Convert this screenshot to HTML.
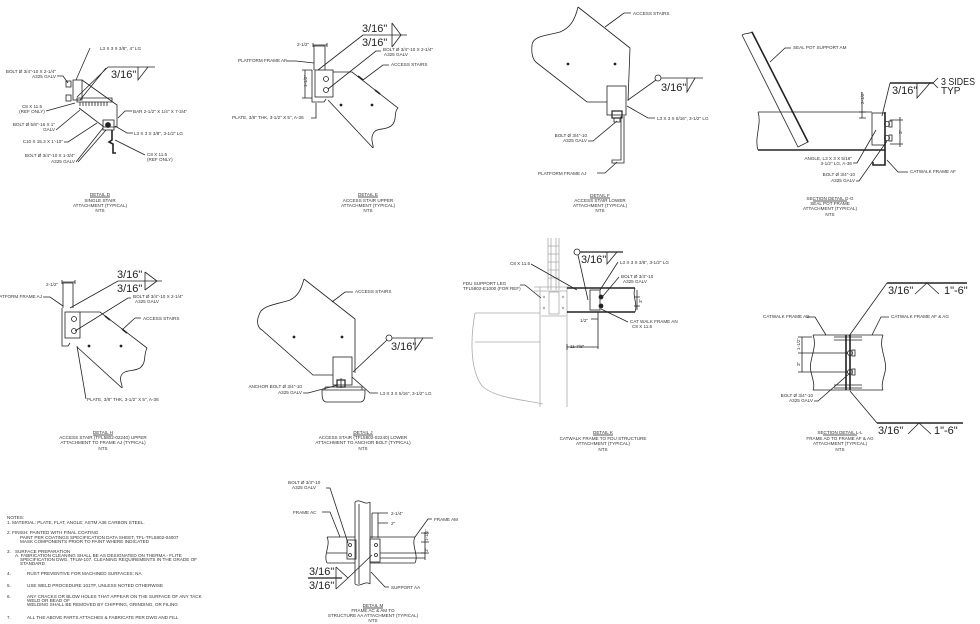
<!DOCTYPE html>
<html><head><meta charset="utf-8">
<style>
html,body{margin:0;padding:0;background:#fff;}
svg{display:block;}
text{font-family:"Liberation Sans",sans-serif;fill:#333;stroke:none;font-size:4.6px;}
.w{font-size:11px;fill:#222;}
.m{text-anchor:middle;}
.e{text-anchor:end;}
.g{stroke:#aaa;}
.t{stroke-width:1.6;}
.f{fill:#222;}
</style></head><body>
<svg width="980" height="624" viewBox="0 0 980 624" xmlns="http://www.w3.org/2000/svg">
<rect width="980" height="624" fill="#fff"/>
<g fill="none" stroke="#222" stroke-width="0.8">

<!-- ================= DETAIL D ================= -->
<path d="M108,67 H155"/>
<path d="M138,67 V80 L148,67"/>
<text class="w" x="111" y="78">3/16"</text>
<path d="M108,67 L77,97 M106,68 L80,100"/>
<path d="M90,48 L76,80"/>
<text x="100" y="50">L3 X 3 X 3/8", 4" LG</text>
<rect x="73" y="80" width="9" height="20"/>
<rect x="66" y="81" width="5" height="6"/><rect x="66" y="95" width="5" height="6"/>
<path d="M82,80 L117,105 V127"/>
<path d="M79,108 L104,127 H117"/>
<path d="M77,98 H112 V102 H77 Z"/>
<path d="M80,102 V106 M83,102 V106 M86,102 V106 M89,102 V106 M92,102 V106 M95,102 V106 M98,102 V106 M101,102 V106 M104,102 V106 M107,102 V106"/>
<rect x="103" y="120" width="11" height="10"/>
<circle cx="108" cy="125" r="2.5" class="f"/>
<path d="M112,130 V140 L109,142 L113,144 V153 H116" class="t"/>
<text class="e" x="56" y="73">BOLT Ø 3/4"-10 X 2-1/4"</text>
<text class="e" x="56" y="78">A325 GALV</text>
<path d="M57,76 H63 L68,83"/>
<text class="m" x="32" y="108">C8 X 11.5</text>
<text class="m" x="32" y="113">(REF ONLY)</text>
<path d="M46,111 L75,103"/>
<text class="e" x="55" y="126">BOLT Ø 5/8"-16 X 1"</text>
<text class="e" x="55" y="131">GALV</text>
<path d="M56,130 L80,110"/>
<text class="e" x="63" y="143">C10 X 15.3 X 1'-10"</text>
<path d="M64,142 H68 L97,123"/>
<text class="e" x="75" y="157">BOLT Ø 3/4"-10 X 1-3/4"</text>
<text class="e" x="75" y="163">A325 GALV</text>
<path d="M76,162 L103,128 M78,162 L106,130"/>
<text x="133" y="113">BAR 2-1/2" X 1/4" X 7-3/4"</text>
<path d="M132,111 H125 L118,118"/>
<text x="134" y="135">L3 X 3 X 3/8", 3-1/2" LG</text>
<path d="M133,133 H127 L115,126"/>
<text x="147" y="156">C8 X 11.5</text>
<text x="147" y="161">(REF ONLY)</text>
<path d="M145,155 L115,140"/>
<text class="m" x="100" y="196">DETAIL D</text><path d="M90,197 H110"/>
<text class="m" x="100" y="202">SINGLE STAIR</text>
<text class="m" x="100" y="207">ATTACHMENT (TYPICAL)</text>
<text class="m" x="100" y="212">NTS</text>

<!-- ================= DETAIL E ================= -->
<path d="M363,35 H407"/>
<path d="M392,23 V47 M392,23 L401,35 L392,47"/>
<text class="w" x="362" y="32">3/16"</text>
<text class="w" x="362" y="46">3/16"</text>
<path d="M363,35 L318,70"/>
<path d="M314,70 V46 H325 V70"/>
<path d="M313,45 H327 M313,43 V47 M327,43 V47"/>
<text x="297" y="46">2-1/2"</text>
<rect x="315" y="70" width="18" height="27"/>
<path d="M312,70 V102 H324 L326,99"/>
<circle cx="326" cy="79" r="2.5"/><circle cx="326" cy="90" r="2.5"/>
<path d="M305,70 V98 M302,70 H312 M302,98 H312"/>
<text x="0" y="0" transform="translate(307,87) rotate(-90)">1-1/2"</text>
<path d="M333,72 H352 L398,108 C393,113 398,120 391,126 C384,131 376,127 373,134 C370,140 374,145 373,148"/>
<path d="M328,100 L373,148"/>
<path d="M358,76 L363,80 M375,90 L380,94" class="t"/>
<circle cx="341" cy="105" r="1" class="f"/><circle cx="372" cy="105" r="1" class="f"/>
<text x="383" y="51">BOLT Ø 3/4"-10 X 2-1/4"</text>
<text x="384" y="56">A325 GALV</text>
<path d="M381,51 H376 L328,89"/>
<text x="391" y="66">ACCESS STAIRS</text>
<path d="M389,65 H383 L363,80"/>
<text x="238" y="62">PLATFORM FRAME AF</text>
<path d="M286,61 H296 L314,63"/>
<text x="232" y="119">PLATE, 3/8" THK, 3-1/2" X 5", A-36</text>
<path d="M311,118 H316 V103"/>
<text class="m" x="368" y="196">DETAIL E</text><path d="M358,197 H378"/>
<text class="m" x="368" y="202">ACCESS STAIR UPPER</text>
<text class="m" x="368" y="207">ATTACHMENT (TYPICAL)</text>
<text class="m" x="368" y="212">NTS</text>

<!-- ================= DETAIL F ================= -->
<path d="M578,7 L630,48 L628,101"/>
<path d="M578,7 C575,20 570,28 560,32 C545,36 533,36 532,45 C531,55 533,60 537,63 L587,102 H607"/>
<circle cx="568" cy="64" r="1" class="f"/><circle cx="615" cy="64" r="1" class="f"/>
<rect x="607" y="86" width="19" height="29"/>
<rect x="612" y="111" width="10" height="7" stroke-width="1.2"/>
<path d="M614,118 H620 V122 H614 Z"/>
<path d="M621,116 V160 H612 V163 H624 V116"/>
<circle cx="658" cy="78" r="3"/>
<path d="M661,78 H703"/>
<path d="M687,78 V92 L695,78"/>
<text class="w" x="661" y="91">3/16"</text>
<path d="M656,80 L628,100"/>
<text x="633" y="15">ACCESS STAIRS</text>
<path d="M631,13 H624 L605,27"/>
<text x="657" y="120">L3 X 3 X 5/16", 3-1/2" LG</text>
<path d="M655,118 H648 L627,106"/>
<text class="e" x="587" y="137">BOLT Ø 3/4"-10</text>
<text class="e" x="587" y="142">A325 GALV</text>
<path d="M588,141 H593 L617,121"/>
<text x="538" y="175">PLATFORM FRAME AJ</text>
<path d="M597,173 H605 L617,162"/>
<text class="m" x="600" y="197">DETAIL F</text><path d="M590,198 H610"/>
<text class="m" x="600" y="202">ACCESS STAIR LOWER</text>
<text class="m" x="600" y="207">ATTACHMENT (TYPICAL)</text>
<text class="m" x="600" y="212">NTS</text>

<!-- ================= DETAIL G ================= -->
<path d="M758,112 H872 M758,150 H885"/>
<path d="M758,150 H885" class="t"/>
<path d="M758,112 C762,124 754,138 758,150"/>
<path d="M742,35 L798,147 L808,142 L752,32 C749,34 745,33 742,35"/>
<path d="M752,32 L808,142" class="t"/>
<rect x="872" y="113" width="13" height="32"/>
<path d="M885,112 V165 H873 V162" class="t"/>
<circle cx="887" cy="124" r="2.5"/><circle cx="887" cy="138" r="2.5"/>
<rect x="889" y="121" width="3" height="6"/><rect x="889" y="135" width="3" height="6"/>
<path d="M862,92 V118 M859,112 H866 M859,118 H866"/>
<text transform="translate(864,104) rotate(-90)">2-1/2"</text>
<path d="M900,117 V147 M897,120 H903 M897,144 H903 M890,120 H897 M890,144 H897"/>
<text transform="translate(902,134) rotate(-90)">3"</text>
<path d="M890,83 H933" stroke-width="1.4"/>
<path d="M917,83 V98 L930,83"/>
<path d="M933,83 L938,78 M933,83 L938,88"/>
<text class="w" x="892" y="94">3/16"</text>
<text class="w" x="941" y="85" style="font-size:10px" textLength="34" lengthAdjust="spacingAndGlyphs">3 SIDES</text>
<text class="w" x="941" y="94" style="font-size:10px">TYP</text>
<path d="M890,83 L882,116"/>
<text x="793" y="49">SEAL POT SUPPORT AM</text>
<path d="M791,48 H785 L770,62"/>
<text class="e" x="852" y="160">ANGLE, L3 X 3 X 5/16"</text>
<text class="e" x="852" y="165">3-1/2" LG, A-36</text>
<path d="M853,163 H857 L876,130"/>
<text class="e" x="855" y="176">BOLT Ø 3/4"-10</text>
<text class="e" x="855" y="182">A325 GALV</text>
<path d="M856,181 H859 L887,141"/>
<text x="910" y="173">CATWALK FRAME AF</text>
<path d="M908,172 H898 L887,160"/>
<text class="m" x="830" y="200">SECTION DETAIL G-G</text><path d="M813,201 H847"/>
<text class="m" x="830" y="205">SEAL POT FRAME</text>
<text class="m" x="830" y="210">ATTACHMENT (TYPICAL)</text>
<text class="m" x="830" y="216">NTS</text>

<!-- ================= DETAIL H ================= -->
<path d="M118,281 H162"/>
<path d="M145,272 V290 M145,272 L157,281 L145,290"/>
<text class="w" x="117" y="278">3/16"</text>
<text class="w" x="117" y="292">3/16"</text>
<path d="M118,281 L70,308"/>
<path d="M63,308 V283 H73 V308"/>
<path d="M62,282 H75 M62,280 V284 M75,280 V284"/>
<text x="46" y="286">2-1/2"</text>
<path d="M62,308 V346 H68 L70,343"/>
<rect x="65" y="312" width="15" height="26"/>
<circle cx="74" cy="319" r="2.5"/><circle cx="74" cy="331" r="2.5"/>
<path d="M80,312 H100 L147,348 C143,356 147,362 140,368 C133,372 124,369 121,376 C119,381 123,385 122,388"/>
<path d="M77,347 L122,388"/>
<path d="M105,316 L110,320 M122,329 L127,333" class="t"/>
<circle cx="89" cy="346" r="1" class="f"/><circle cx="121" cy="346" r="1" class="f"/>
<text class="e" x="42" y="298">ATFORM FRAME AJ</text>
<path d="M43,297 H50 L63,306"/>
<text x="133" y="298">BOLT Ø 3/4"-10 X 2-1/4"</text>
<text x="135" y="303">A325 GALV</text>
<path d="M131,298 H128 L75,331"/>
<text x="143" y="320">ACCESS STAIRS</text>
<path d="M141,318 H135 L123,329"/>
<text x="87" y="401">PLATE, 3/8" THK, 3-1/2" X 5", A-36</text>
<path d="M86,399 L77,346"/>
<text class="m" x="103" y="434">DETAIL H</text><path d="M93,435 H113"/>
<text class="m" x="103" y="439">ACCESS STAIR (TFL5802-02240) UPPER</text>
<text class="m" x="103" y="444">ATTACHMENT TO FRAME AJ (TYPICAL)</text>
<text class="m" x="103" y="450">NTS</text>

<!-- ================= DETAIL J ================= -->
<path d="M304,279 L355,319 V373"/>
<path d="M304,279 C301,290 298,296 290,300 C275,305 262,305 259,315 C256,322 258,328 262,330 L313,375 H333"/>
<circle cx="294" cy="337" r="1" class="f"/><circle cx="342" cy="337" r="1" class="f"/>
<rect x="333" y="357" width="19" height="28"/>
<path d="M325,387 H362 V390 M325,387 V390 M322,390 H365 C365,397 365,401 361,402 H326 C322,401 322,397 322,390"/>
<rect x="337" y="380" width="8" height="7" stroke-width="1.2"/>
<path d="M341,378 V388"/>
<circle cx="389" cy="338" r="3"/>
<path d="M392,338 H433"/>
<path d="M415,338 V350 L423,338"/>
<text class="w" x="391" y="350">3/16"</text>
<path d="M387,340 L353,372"/>
<text x="355" y="293">ACCESS STAIRS</text>
<path d="M353,292 H345 L332,302"/>
<text class="e" x="302" y="388">ANCHOR BOLT Ø 3/4"-10</text>
<text class="e" x="302" y="394">A325 GALV</text>
<path d="M303,393 H308 L338,385"/>
<text x="380" y="395">L3 X 3 X 5/16", 3-1/2" LG</text>
<path d="M378,393 H370 L352,377"/>
<text class="m" x="363" y="434">DETAIL J</text><path d="M353,435 H373"/>
<text class="m" x="363" y="439">ACCESS STAIR (TFL5802-02240) LOWER</text>
<text class="m" x="363" y="444">ATTACHMENT TO ANCHOR BOLT (TYPICAL)</text>
<text class="m" x="363" y="450">NTS</text>

<!-- ================= DETAIL K ================= -->
<g class="g">
<path d="M548,238 V290 M559,238 V290 M551,238 V290 M556,238 V290"/>
<path d="M548,246 H559 M548,254 H559 M548,262 H559 M548,270 H559 M548,278 H559"/>
<path d="M540,287 V407 M567,287 V407 M534,287 H569 M534,291 H567"/>
<rect x="549" y="292" width="10" height="22"/>
<circle cx="544" cy="297" r="0.8"/><circle cx="563" cy="297" r="0.8"/><circle cx="544" cy="308" r="0.8"/><circle cx="563" cy="308" r="0.8"/>
<path d="M541,316 H566"/>
<path d="M475,313 H540 M475,342 H540"/>
<path d="M475,313 C471,335 469,368 482,386 C495,398 520,399 543,404"/>
</g>
<path d="M567,288 H635 M567,312 H635" class="t"/>
<path d="M635,288 C632,296 638,304 635,312"/>
<rect x="590" y="290" width="10" height="20"/>
<circle cx="601" cy="297" r="2" class="f"/><circle cx="601" cy="306" r="2" class="f"/>
<path d="M637,290 V310 M634,297 H640 M634,306 H640"/>
<text transform="translate(642,303) rotate(-90)">3"</text>
<circle cx="577" cy="252" r="3"/>
<path d="M580,252 H623" stroke-width="1.3"/>
<path d="M607,252 V264 L617,252"/>
<text class="w" x="581" y="263">3/16"</text>
<path d="M578,255 L588,300"/>
<text x="620" y="264">L3 X 3 X 3/8", 3-1/2" LG</text>
<path d="M618,262 L600,290"/>
<text x="510" y="265">C8 X 11.5</text>
<path d="M531,264 L577,290"/>
<text x="463" y="285">FDU SUPPORT LEG</text>
<text x="463" y="290">TFL5802-E1000 (FOR REF)</text>
<path d="M520,285 H525 L541,298"/>
<text x="621" y="278">BOLT Ø 3/4"-10</text>
<text x="623" y="283">A325 GALV</text>
<path d="M619,277 L603,296"/>
<text x="580" y="322">1/2"</text>
<path d="M591,319 H598 M598,312 V349"/>
<text x="630" y="323">CAT WALK FRAME AN</text>
<text x="632" y="328">C8 X 11.5</text>
<path d="M628,322 L601,309"/>
<text x="570" y="348">11-7/8"</text>
<path d="M567,347 H598 M567,344 V350"/>
<text class="m" x="603" y="434">DETAIL K</text><path d="M593,435 H613"/>
<text class="m" x="603" y="440">CATWALK FRAME TO FDU STRUCTURE</text>
<text class="m" x="603" y="445">ATTACHMENT (TYPICAL)</text>
<text class="m" x="603" y="451">NTS</text>

<!-- ================= DETAIL L ================= -->
<path d="M813,335 H883 M813,390 H883"/>
<path d="M813,335 C818,348 808,360 811,372 C813,380 815,386 813,390"/>
<path d="M883,335 C878,348 888,360 885,372 C883,380 881,386 883,390"/>
<path d="M846,335 V390 M850,335 V390" class="t"/>
<path d="M834,337 H862 M834,340 H862 M834,385 H862 M834,388 H862"/>
<circle cx="850" cy="353" r="2.5"/><circle cx="850" cy="372" r="2.5"/>
<rect x="852" y="350" width="3" height="6"/><rect x="852" y="369" width="3" height="6"/>
<path d="M802,337 V372 M798,337 H812 M798,353 H848 M798,372 H848"/>
<text transform="translate(800,350) rotate(-90)">1-1/2"</text>
<text transform="translate(800,366) rotate(-90)">3"</text>
<path d="M887,283 H967" stroke-width="1.4"/>
<path d="M915,294 L927,283 L939,294"/>
<text class="w" x="888" y="294">3/16"</text>
<text class="w" x="944" y="294">1"-6"</text>
<path d="M887,283 L849,336"/>
<path d="M877,423 H963" stroke-width="1.4"/>
<path d="M908,434 L919,423 L931,434"/>
<text class="w" x="878" y="434">3/16"</text>
<text class="w" x="934" y="434">1"-6"</text>
<path d="M877,423 L850,391"/>
<text x="763" y="318">CATWALK FRAME AD</text>
<path d="M807,317 H815 L826,335"/>
<text x="891" y="318">CATWALK FRAME AF &amp; AG</text>
<path d="M889,317 H881 L872,335"/>
<text class="e" x="813" y="397">BOLT Ø 3/4"-10</text>
<text class="e" x="813" y="402">A325 GALV</text>
<path d="M814,401 H818 L850,373"/>
<text class="m" x="840" y="434">SECTION DETAIL L-L</text><path d="M823,435 H857"/>
<text class="m" x="840" y="440">FRAME AD TO FRAME AF &amp; AG</text>
<text class="m" x="840" y="445">ATTACHMENT (TYPICAL)</text>
<text class="m" x="840" y="451">NTS</text>

<!-- ================= DETAIL M ================= -->
<path d="M355,502 V584 M370,502 V584 M359,504 V584"/>
<path d="M355,502 C360,498 365,506 370,502"/>
<path d="M355,584 C360,588 365,580 370,584"/>
<path d="M327,537 H355 M327,563 H355 M327,553 H347"/>
<path d="M327,537 C331,545 323,555 327,563"/>
<path d="M370,537 H415 M370,563 H415 M380,553 H425 M380,558 H425"/>
<path d="M415,537 C411,545 419,555 415,563"/>
<rect x="347" y="540" width="9" height="19"/>
<rect x="370" y="539" width="10" height="23"/>
<circle cx="350" cy="545" r="1.5"/><circle cx="350" cy="555" r="1.5"/>
<circle cx="376" cy="545" r="1.5"/><circle cx="376" cy="555" r="1.5"/>
<path d="M372,513 V538 M378,513 V538 M372,513 H388 M378,523 H388"/>
<text x="391" y="515">2-1/4"</text>
<text x="391" y="525">2"</text>
<path d="M425,532 V560 M421,533 H429 M421,542 H429 M421,553 H429"/>
<text transform="translate(428,541) rotate(-90)">1-1/2"</text>
<text transform="translate(428,552) rotate(-90)">3"</text>
<path d="M308,578 H342" stroke-width="1.3"/>
<path d="M336,567 V589 M336,567 L348,578 L336,589"/>
<text class="w" x="309" y="575">3/16"</text>
<text class="w" x="309" y="589">3/16"</text>
<path d="M348,578 L372,555"/>
<text x="288" y="484">BOLT Ø 3/4"-10</text>
<text x="292" y="489">A325 GALV</text>
<path d="M326,488 H330 L348,543"/>
<text x="293" y="514">FRAME AC</text>
<path d="M322,512 H330 L340,537"/>
<text x="434" y="521">FRAME AM</text>
<path d="M432,519 H428 L415,537"/>
<text x="391" y="589">SUPPORT AA</text>
<path d="M389,587 H385 L371,572"/>
<text class="m" x="373" y="607">DETAIL M</text><path d="M363,608 H383"/>
<text class="m" x="373" y="612">FRAME AC &amp; AM TO</text>
<text class="m" x="373" y="617">STRUCTURE AA ATTACHMENT (TYPICAL)</text>
<text class="m" x="373" y="622">NTS</text>

<!-- ================= NOTES ================= -->
<text x="7" y="519">NOTES:</text>
<text x="7" y="524">1. MATERIAL: PLATE, FLAT, ANGLE: ASTM A36 CARBON STEEL.</text>
<text x="7" y="534">2. FINISH: PAINTED WITH FINAL COATING</text>
<text x="20" y="539">PAINT PER COATINGS SPECIFICATION DATA SHEET, TFL-TFL5802-04007</text>
<text x="20" y="543">MASK COMPONENTS PRIOR TO PAINT WHERE INDICATED</text>
<text x="7" y="553">3.</text><text x="15" y="553">SURFACE PREPARATION</text>
<text x="15" y="557">A. FABRICATION CLEANING SHALL BE AS DESIGNATED ON THERMA - FLITE</text>
<text x="20" y="561">SPECIFICATION DWG. TFLW-107. CLEANING REQUIREMENTS IN THE GRADE OF</text>
<text x="20" y="565">STANDARD</text>
<text x="7" y="575">4.</text><text x="27" y="575">RUST PREVENTIVE FOR MACHINED SURFACES: NA</text>
<text x="7" y="587">5.</text><text x="27" y="587">USE WELD PROCEDURE 101TF, UNLESS NOTED OTHERWISE</text>
<text x="7" y="598">6.</text><text x="27" y="598">ANY CRACKS OR BLOW HOLES THAT APPEAR ON THE SURFACE OF ANY TACK</text>
<text x="27" y="602">WELD OR BEAD OF</text>
<text x="27" y="606">WELDING SHALL BE REMOVED BY CHIPPING, GRINDING, OR FILING</text>
<text x="7" y="619">7.</text><text x="27" y="619">ALL THE ABOVE PARTS ATTACHES &amp; FABRICATE PER DWG AND FILL</text>
</g>
</svg>
</body></html>
